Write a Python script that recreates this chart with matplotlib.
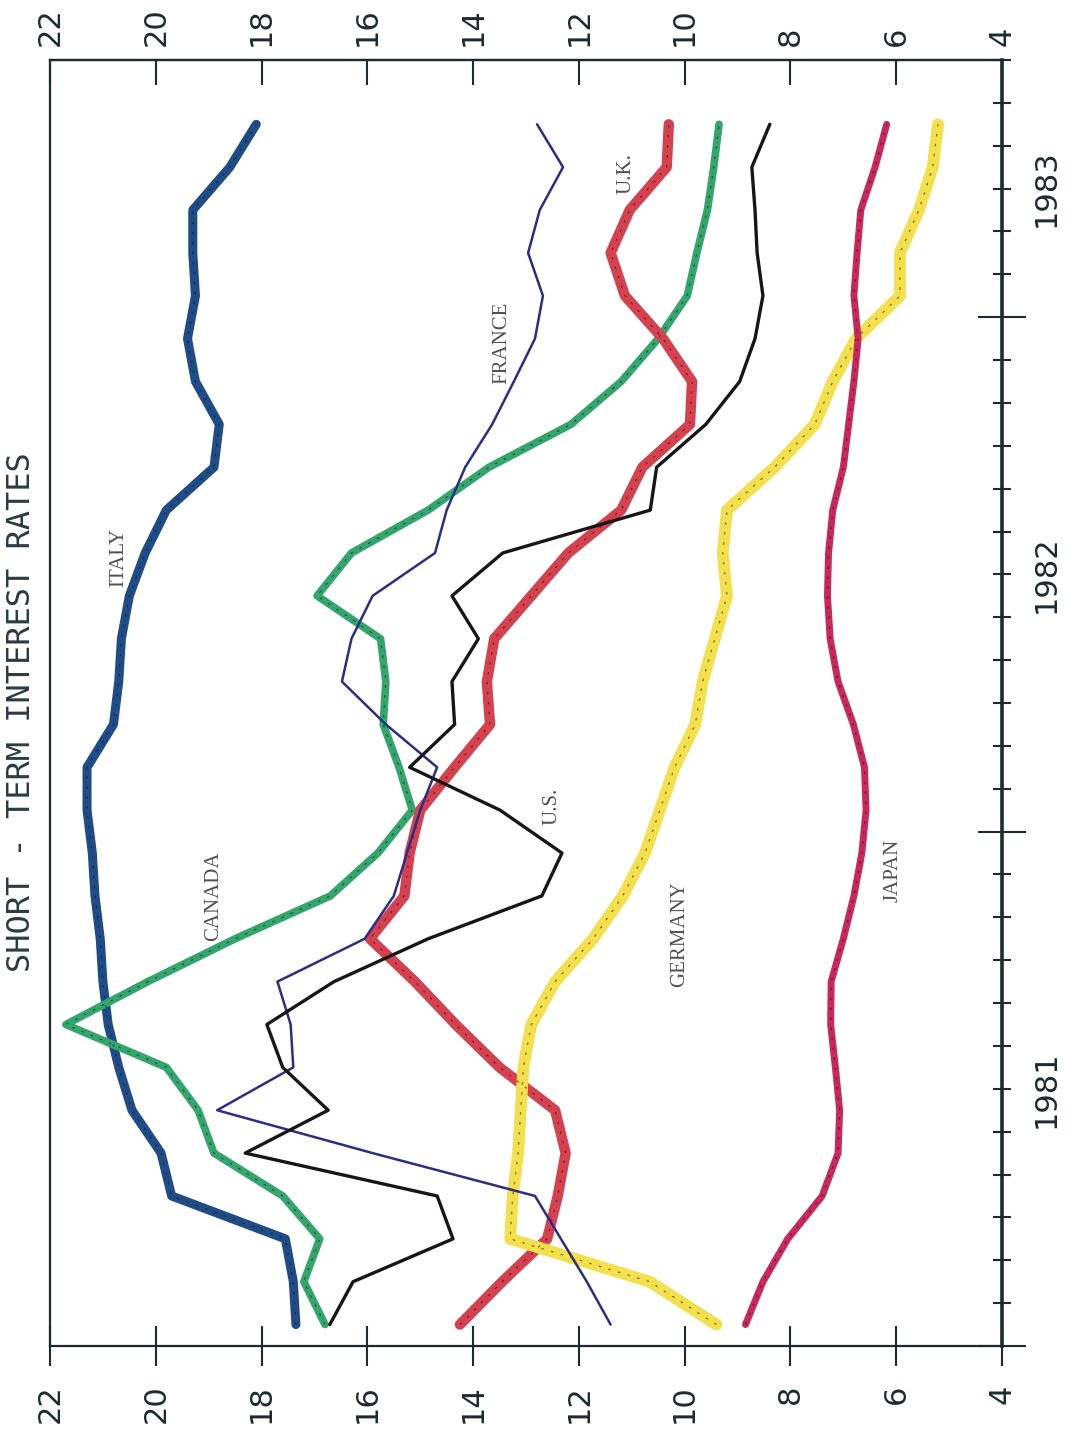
import numpy as np
import matplotlib.pyplot as plt

# Monthly short-term rates (%), Jan 1981 onward, plotted at mid-month
months = np.arange(29) + 0.5

italy = [17.35, 17.4, 17.55, 19.7, 19.9, 20.45, 20.7, 20.9, 21.0, 21.05, 21.15, 21.2, 21.3, 21.3,
         20.8, 20.7, 20.65, 20.5, 20.2, 19.8, 18.9, 18.8, 19.25, 19.4, 19.25, 19.3, 19.3, 18.6, 18.1]
canada = [16.8, 17.2, 16.9, 17.6, 18.9, 19.2, 19.8, 21.7, 20.15, 18.5, 16.7, 15.8, 15.15, 15.4,
          15.7, 15.65, 15.75, 16.95, 16.3, 14.85, 13.7, 12.15, 11.2, 10.5, 9.95, 9.77, 9.57, 9.45, 9.35]
france = [11.4, 11.85, 12.34, 12.83, 15.9, 18.84, 17.4, 17.45, 17.7, 16.05, 15.5, 15.25, 15.0, 14.68,
          15.65, 16.48, 16.3, 15.9, 14.72, 14.5, 14.15, 13.64, 13.23, 12.83, 12.68, 12.96, 12.74, 12.3, 12.79]
us = [16.71, 16.27, 14.38, 14.68, 18.31, 16.74, 17.6, 17.9, 16.63, 14.85, 12.7, 12.32, 13.49, 15.2,
      14.35, 14.4, 13.9, 14.4, 13.44, 10.65, 10.53, 9.6, 8.96, 8.67, 8.52, 8.63, 8.67, 8.73, 8.39]
uk = [14.25, 13.45, 12.6, 12.4, 12.25, 12.45, 13.5, 14.33, 15.1, 15.95, 15.3, 15.2, 15.0, 14.35,
      13.68, 13.74, 13.6, 12.9, 12.2, 11.2, 10.8, 9.9, 9.86, 10.41, 11.13, 11.4, 11.04, 10.34, 10.3]
germany = [9.4, 10.66, 13.3, 13.25, 13.15, 13.1, 13.05, 12.9, 12.45, 11.73, 11.17, 10.75, 10.47, 10.19,
           9.8, 9.66, 9.43, 9.2, 9.28, 9.2, 8.3, 7.54, 7.2, 6.76, 5.93, 5.93, 5.57, 5.31, 5.21]
japan = [8.85, 8.52, 8.05, 7.4, 7.1, 7.07, 7.15, 7.24, 7.23, 7.0, 6.8, 6.65, 6.57, 6.6,
         6.81, 7.1, 7.25, 7.3, 7.28, 7.2, 7.0, 6.9, 6.8, 6.72, 6.8, 6.74, 6.67, 6.4, 6.18]

rate_ticks = list(range(22, 3, -2))
years = ['1981', '1982', '1983']
year_pos = [6, 18, 27]

# name, data, colour, width, thin pen line or marker stroke, label position (rate, month)
series = [
    ('ITALY', italy, '#1f4c86', 6.5, False, (20.7, 18.4)),
    ('CANADA', canada, '#34a56c', 5.5, False, (18.9, 10.5)),
    ('FRANCE', france, '#2b2e85', 1.8, True, (13.45, 23.4)),
    ('U.S.', us, '#161616', 2.4, True, (12.5, 12.6)),
    ('U.K.', uk, '#d5414f', 7.5, False, (11.1, 27.35)),
    ('GERMANY', germany, '#f4e04c', 8.5, False, (10.1, 9.6)),
    ('JAPAN', japan, '#c9285c', 5.0, False, (6.05, 11.1)),
]

ink = '#1d2b2f'

fig = plt.figure(figsize=(10.79, 14.33), dpi=100)
ax = fig.add_axes([50 / 1079, 1 - 1346 / 1433, 952 / 1079, 1286 / 1433])
ax.set_xlim(22, 4)
ax.set_ylim(0, 30)

for name, vals, col, lw, thin, (lx, ly) in series:
    ax.plot(vals, months, color=col, lw=lw, solid_capstyle='round',
            solid_joinstyle='round', zorder=3 if thin else 2)
    if not thin:
        # pen line showing through the marker colour
        ax.plot(vals, months, color='#101010', lw=0.9, ls=(0, (2, 6)),
                alpha=0.55, zorder=2.5)
    ax.text(lx, ly, name, rotation=90, ha='center', va='center',
            family='Liberation Serif', fontsize=15, color='#505050', zorder=4)

# frame
for side in ['left', 'top', 'bottom']:
    ax.spines[side].set_linewidth(1.6)
    ax.spines[side].set_color(ink)
ax.spines['right'].set_linewidth(2.6)
ax.spines['right'].set_color(ink)

# rate axis, bottom ticks cross the frame
ax.set_xticks(rate_ticks)
ax.set_xticklabels([str(v) for v in rate_ticks], rotation=90, fontsize=22,
                   family='DejaVu Sans', color=ink)
ax.tick_params(axis='x', direction='inout', length=29, width=1.5, color=ink, pad=13)

# rate axis, top ticks point inward
top = ax.secondary_xaxis('top')
top.set_xticks(rate_ticks)
top.set_xticklabels([str(v) for v in rate_ticks], rotation=90, fontsize=22,
                    family='DejaVu Sans', color=ink)
top.tick_params(axis='x', direction='in', length=18, width=1.5, color=ink, pad=10)
top.spines['top'].set_linewidth(1.6)
top.spines['top'].set_color(ink)

# time axis on the right: monthly ticks, longer marks at the year boundaries
ax.yaxis.tick_right()
ax.set_yticks([0, 12, 24])
ax.set_yticks(np.arange(0, 31), minor=True)
ax.set_yticklabels([])
ax.tick_params(axis='y', which='major', direction='inout', length=34, width=1.5, color=ink)
ax.tick_params(axis='y', which='minor', direction='inout', length=13, width=1.5, color=ink)

ytrans = ax.get_yaxis_transform()
for yr, pos in zip(years, year_pos):
    ax.text(1.046, pos, yr, transform=ytrans, rotation=90, ha='center', va='center',
            fontsize=22, family='DejaVu Sans', color=ink)

fig.text(22 / 1079, 1 - 712 / 1433, 'SHORT - TERM INTEREST RATES', rotation=90,
         ha='center', va='center', family='DejaVu Sans Mono', fontsize=23, color='#2a3c42')

fig.savefig('out.png', dpi=100, facecolor='white')
